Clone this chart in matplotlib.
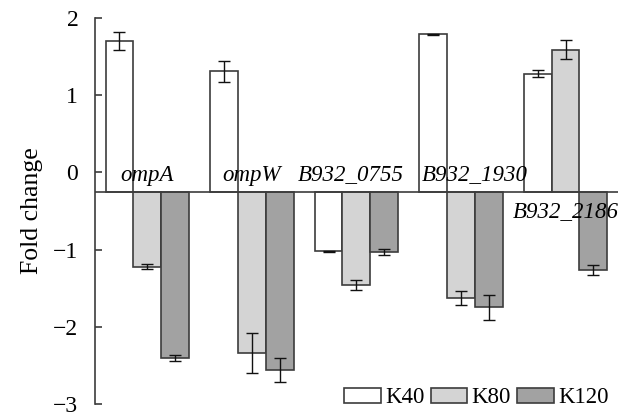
import matplotlib
matplotlib.use("Agg")
import matplotlib.pyplot as plt
import numpy as np

genes = ["ompA", "ompW", "B932_0755", "B932_1930", "B932_2186"]
series = ["K40", "K80", "K120"]
k40 = [1.70, 1.31, -1.02, 1.79, 1.28]
k80 = [-1.22, -2.34, -1.46, -1.63, 1.59]
k120 = [-2.40, -2.56, -1.03, -1.75, -1.26]
k40_err = [0.12, 0.135, 0.005, 0.005, 0.045]
k80_err = [0.03, 0.26, 0.06, 0.09, 0.127]
k120_err = [0.04, 0.155, 0.043, 0.16, 0.065]
yticks = [-3, -2, -1, 0, 1, 2]
baseline = -0.25

colors = ["#ffffff", "#d4d4d4", "#a2a2a2"]
edge = "#3c3c3c"

plt.rcParams['font.family'] = ['Liberation Serif', 'DejaVu Serif']
plt.rcParams['mathtext.fontset'] = 'stix'

fig = plt.figure(figsize=(6.33, 4.12), dpi=100)
ax = fig.add_axes([0.150, 0.0194, 0.826, 0.937])

x = np.arange(len(genes))
w = 0.266
vals = [k40, k80, k120]
errs = [k40_err, k80_err, k120_err]
for i, (v, e, c, s) in enumerate(zip(vals, errs, colors, series)):
    v = np.array(v)
    pos = x + (i - 1) * w
    ax.bar(pos, v - baseline, bottom=baseline, width=w, color=c, edgecolor=edge,
           linewidth=1.2, label=s, zorder=2)
    ax.errorbar(pos, v, yerr=e, fmt='none', ecolor='#111111', elinewidth=1.0,
                capsize=4, capthick=1.0, zorder=3)

ax.axhline(baseline, color=edge, linewidth=1.2, zorder=4)

ax.set_xlim(-0.5, 4.5)
ax.set_ylim(-3, 2)
ax.set_yticks(yticks)
ax.set_yticklabels([str(t).replace('-', '\u2212') for t in yticks], fontsize=17)
ax.tick_params(axis='y', direction='in', length=5, width=1.2, color=edge, pad=12)
ax.set_xticks([])
for sp in ['top', 'right', 'bottom']:
    ax.spines[sp].set_visible(False)
ax.spines['left'].set_color(edge)
ax.spines['left'].set_linewidth(1.2)

label_dx = [0, 0, -0.05, 0.13, 0]
for i, g in enumerate(genes):
    if i == 4:
        ax.text(x[i] + label_dx[i], baseline - 0.12, g, ha='center', va='top',
                fontsize=16.5, style='italic', zorder=5)
    else:
        ax.text(x[i] + label_dx[i], baseline + 0.08, g, ha='center', va='bottom',
                fontsize=16.5, style='italic', zorder=5)

ax.set_ylabel("Fold change", fontsize=18.5)
ax.yaxis.set_label_coords(-0.10, 0.50)

ax.legend(loc='lower right', ncol=3, frameon=False, fontsize=16.5,
          handlelength=1.6, handleheight=0.6, handletextpad=0.2,
          columnspacing=0.25, borderaxespad=0.0, bbox_to_anchor=(1.0, -0.035))

fig.savefig("out.png", dpi=100)
